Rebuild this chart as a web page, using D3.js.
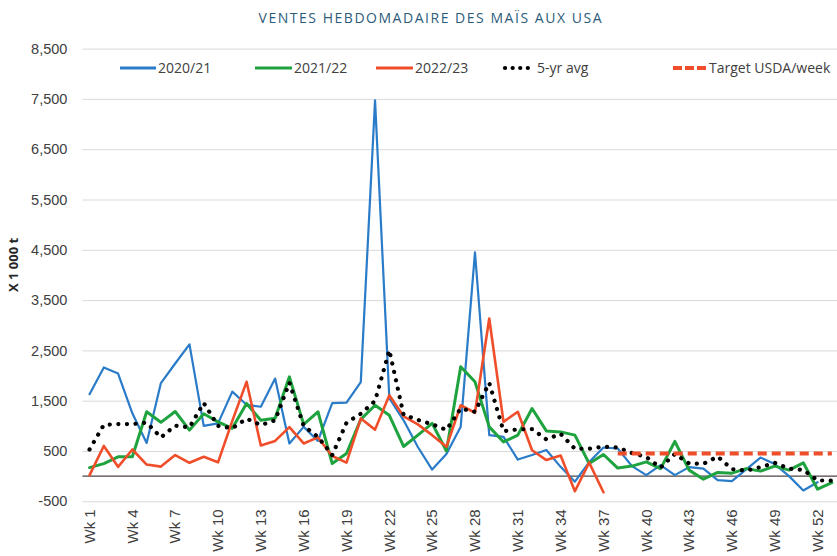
<!DOCTYPE html>
<html>
<head>
<meta charset="utf-8">
<script src="https://cdn.jsdelivr.net/npm/d3@7"></script>
<style>
  body { margin: 0; background: #fff; }
  svg { display: block; font-family: "Open Sans", sans-serif; }
  .y.axis .domain { display: none; }
  .y.axis line { stroke: #d9d9d9; stroke-width: 1; }
  .x.axis .domain, .x.axis line { display: none; }
</style>
</head>
<body>
<svg id="chart-svg" width="837" height="556"></svg>
<script>
// weekly values, thousand tonnes
let weeks = d3.range(1, 54).map(i => 'Wk ' + i);
let yTicks = [-500, 500, 1500, 2500, 3500, 4500, 5500, 6500, 7500, 8500];

let s2020 = [1630, 2160, 2040, 1250, 660, 1850, 2240, 2620, 1000, 1050,
    1680, 1420, 1380, 1940, 650, 980, 700, 1450, 1460, 1870,
    7470, 1550, 1110, 580, 130, 440, 980, 4450, 815, 780,
    330, 420, 520, 185, -110, 280, 570, 550, 200, 20,
    220, 20, 180, 150, -80, -100, 135, 370, 240, 0,
    -285, -120];
let s2021 = [170, 250, 385, 385, 1280, 1070, 1285, 915, 1240, 1080,
    950, 1445, 1110, 1150, 1975, 1030, 1280, 250, 450, 1130,
    1410, 1210, 590, 815, 1050, 500, 2175, 1875, 980, 680,
    815, 1345, 900, 880, 815, 250, 430, 160, 200, 285,
    150, 690, 120, -60, 75, 60, 150, 100, 200, 120,
    265, -260, -130];
let s2022 = [20, 600, 185, 530, 230, 190, 420, 265, 385, 275,
    1100, 1875, 610, 700, 975, 650, 770, 400, 270, 1145,
    925, 1610, 1190, 1030, 815, 585, 1410, 1260, 3135, 1080,
    1280, 515, 320, 410, -300, 270, -320];
let avg5 = [530, 1020, 1035, 1035, 1065, 770, 1005, 970, 1455, 1000,
    950, 1145, 1015, 1110, 1860, 1000, 780, 420, 1060, 1240,
    1495, 2505, 1220, 1120, 1030, 920, 1345, 1280, 1855, 895,
    930, 935, 730, 840, 545, 545, 585, 570, 460, 380,
    170, 440, 250, 245, 390, 140, 110, 180, 265, 150,
    125, -85, -90];
let targetStart = 38;
let targetValue = 450;

let svg = d3.select('#chart-svg');
let padding = {t: 48.6, l: 82.4, r: -2, b: 54.7};
let chartWidth = +svg.attr('width') - padding.l - padding.r;
let chartHeight = +svg.attr('height') - padding.t - padding.b;

let xScale = d3.scaleBand().domain(weeks).range([0, chartWidth]);
let yScale = d3.scaleLinear().domain([-500, 8500]).range([chartHeight, 0]);
let xMid = w => xScale(w) + xScale.bandwidth() / 2;

let chartG = svg.append('g')
    .attr('transform', `translate(${padding.l},${padding.t})`);

// gridlines + y labels
let yAxis = d3.axisLeft(yScale)
    .tickValues(yTicks)
    .tickSizeInner(-chartWidth)
    .tickSizeOuter(0)
    .tickPadding(15)
    .tickFormat(d => d3.format(',')(d).replace('\u2212', '-'));
let yAxisG = chartG.append('g').attr('class', 'y axis').call(yAxis);
yAxisG.selectAll('text')
    .style('font-size', '14.5px')
    .attr('fill', '#404040');

// zero line
chartG.append('line')
    .attr('x1', 0).attr('x2', chartWidth)
    .attr('y1', yScale(0)).attr('y2', yScale(0))
    .attr('stroke', '#4d4444')
    .attr('stroke-width', 1.2);

// x labels, every third week
let xAxis = d3.axisBottom(xScale)
    .tickValues(weeks.filter((d, i) => i % 3 === 0))
    .tickSize(0);
let xAxisG = chartG.append('g')
    .attr('class', 'x axis')
    .attr('transform', `translate(0,${chartHeight})`)
    .call(xAxis);
xAxisG.selectAll('text')
    .attr('transform', 'rotate(-90)')
    .attr('text-anchor', 'end')
    .attr('x', -8)
    .attr('y', 0)
    .attr('dy', '0.35em')
    .style('font-size', '15px')
    .attr('fill', '#404040');

let line = d3.line()
    .x(d => xMid(d.w))
    .y(d => yScale(d.v));
let toPoints = (arr, start = 1) => arr.map((v, i) => ({w: 'Wk ' + (i + start), v: v}));

let series = [
    {name: '2020/21', data: s2020, color: '#2a7bc8', width: 2.2, dash: null},
    {name: '2021/22', data: s2021, color: '#1fa33f', width: 3, dash: null},
    {name: '2022/23', data: s2022, color: '#f04e2a', width: 2.6, dash: null},
    {name: '5-yr avg', data: avg5, color: '#000', width: 4.2, dash: '0.1 8.5'}
];

series.forEach(s => {
    chartG.append('path')
        .datum(toPoints(s.data))
        .attr('d', line)
        .attr('fill', 'none')
        .attr('stroke', s.color)
        .attr('stroke-width', s.width)
        .attr('stroke-linejoin', 'round')
        .attr('stroke-linecap', 'round')
        .attr('stroke-dasharray', s.dash);
});

// usda target
let targetData = weeks.slice(targetStart - 1).map(() => targetValue);
chartG.append('path')
    .datum(toPoints(targetData, targetStart))
    .attr('d', line)
    .attr('fill', 'none')
    .attr('stroke', '#f04e2a')
    .attr('stroke-width', 4)
    .attr('stroke-dasharray', '9 5');

// title
svg.append('text')
    .attr('x', 430)
    .attr('y', 23)
    .attr('text-anchor', 'middle')
    .attr('fill', '#2d5c7c')
    .attr('textLength', 343)
    .style('font-size', '14px')
    .text('VENTES HEBDOMADAIRE DES MAÏS AUX USA');

// y title
svg.append('text')
    .attr('transform', 'translate(18,265) rotate(-90)')
    .attr('text-anchor', 'middle')
    .attr('fill', '#262626')
    .style('font-size', '13px')
    .style('font-weight', 'bold')
    .text('X 1 000 t');

// legend
let legendItems = [
    {label: '2020/21', color: '#2a7bc8', x: 120, w: 36, dash: null, width: 3},
    {label: '2021/22', color: '#1fa33f', x: 255, w: 37, dash: null, width: 3},
    {label: '2022/23', color: '#f04e2a', x: 376, w: 37, dash: null, width: 3},
    {label: '5-yr avg', color: '#000', x: 505, w: 24, dash: '0.1 7.5', width: 4.2},
    {label: 'Target USDA/week', color: '#f04e2a', x: 673, w: 34, dash: '9 3', width: 4.2}
];
let legendG = svg.append('g').attr('transform', 'translate(0,68)');
legendItems.forEach(d => {
    legendG.append('line')
        .attr('x1', d.x).attr('x2', d.x + d.w)
        .attr('y1', 0).attr('y2', 0)
        .attr('stroke', d.color)
        .attr('stroke-width', d.width)
        .attr('stroke-linecap', d.dash && d.dash.startsWith('0.1') ? 'round' : 'butt')
        .attr('stroke-dasharray', d.dash);
    legendG.append('text')
        .attr('x', d.x + d.w + (d.label === '5-yr avg' ? 8 : 2))
        .attr('y', 0)
        .attr('dy', '0.35em')
        .attr('fill', '#404040')
        .style('font-size', '14px')
        .text(d.label);
});
</script>
</body>
</html>
